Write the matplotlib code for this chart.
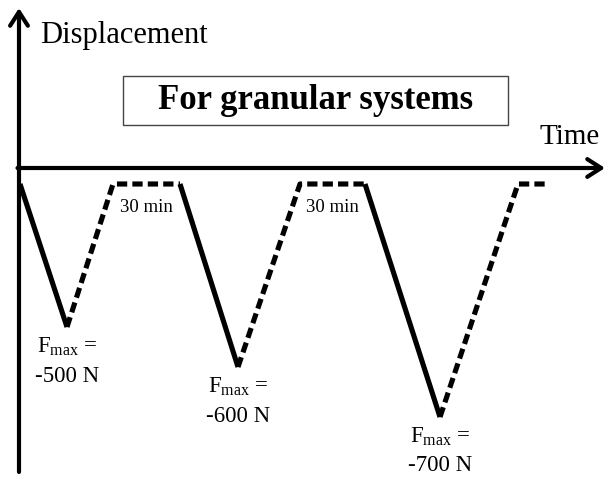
import matplotlib
matplotlib.use("Agg")
import matplotlib.pyplot as plt
from matplotlib.patches import Rectangle

plt.rcParams['font.family'] = ['Liberation Serif', 'DejaVu Serif']
plt.rcParams['mathtext.fontset'] = 'custom'
plt.rcParams['mathtext.rm'] = 'Liberation Serif'
plt.rcParams['mathtext.it'] = 'Liberation Serif:italic'

# ---- schematic data (arbitrary time / displacement units) ----
load_start = [1, 161, 346]        # time at which loading starts
peak_time = [48, 219, 421]        # time of maximum displacement
peak_disp = [-159, -199, -249]    # displacement at F_max
recover_time = [94, 281, 499]     # time at which unloading ends
rest_disp = -16                   # displacement during rest
end_time = 529                    # end of last rest period
force_labels = ["-500 N", "-600 N", "-700 N"]
rest_labels = ["30 min", "30 min"]

W, H = 605, 478
fig = plt.figure(figsize=(W / 100, H / 100), dpi=100)
ax = fig.add_axes([0, 0, 1, 1])
ax.set_xlim(-19, W - 19)
ax.set_ylim(168 - H, 168)
ax.axis('off')

lw_data = 3.7
# axes arrows
arrow_kw = dict(arrowstyle='->,head_length=0.5,head_width=0.32', lw=3.0,
                color='black', shrinkA=0, shrinkB=0, mutation_scale=20)
ax.annotate('', xy=(0, 160), xytext=(0, 168 - 472), arrowprops=arrow_kw)
ax.annotate('', xy=(586, 0), xytext=(-1.5, 0), arrowprops=arrow_kw)

next_start = load_start[1:] + [end_time]
for i in range(3):
    # loading (solid)
    ax.plot([load_start[i], peak_time[i]], [rest_disp, peak_disp[i]],
            color='black', lw=lw_data, solid_capstyle='butt')
    # unloading + rest (dashed)
    ax.plot([peak_time[i], recover_time[i], next_start[i]],
            [peak_disp[i], rest_disp, rest_disp],
            color='black', lw=lw_data, dashes=(2.0, 1.0), dash_capstyle='butt')
    # force label
    ax.text(peak_time[i], peak_disp[i] - 20, r'F$_{\mathrm{max}}$ =',
            ha='center', va='center', fontsize=16.5)
    ax.text(peak_time[i], peak_disp[i] - 49, force_labels[i],
            ha='center', va='center', fontsize=16.5)

for i, lab in enumerate(rest_labels):
    xc = (recover_time[i] + next_start[i]) / 2
    ax.text(xc, rest_disp - 23, lab, ha='center', va='center', fontsize=13.5)

ax.text(21, 133, 'Displacement', ha='left', va='center', fontsize=22)
ax.text(581, 31, 'Time', ha='right', va='center', fontsize=21)

ax.add_patch(Rectangle((104, 43), 385, 49, fill=False, lw=1.0, edgecolor='#444444'))
ax.text(296.5, 67.5, 'For granular systems', ha='center', va='center',
        fontsize=25, fontweight='bold')

fig.savefig('out.png', dpi=100)
